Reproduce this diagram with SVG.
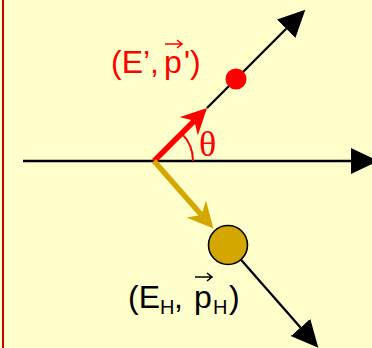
<svg xmlns="http://www.w3.org/2000/svg" width="372" height="348" viewBox="0 0 372 348">
  <style>
    .lbl { font-family: "Liberation Sans", Arial, sans-serif; font-size: 32px; }
    .sub { font-size: 20px; }
    .blk { stroke: #000; stroke-width: 2.3; fill: none; }
  </style>
  <defs>
    <marker id="tri" markerUnits="userSpaceOnUse" markerWidth="28" markerHeight="28" refX="0" refY="13" orient="auto">
      <path d="M0,0 L27,13 L0,26 z" fill="#000"/>
    </marker>
    <marker id="stealthRed" markerUnits="userSpaceOnUse" markerWidth="28" markerHeight="28" refX="8" refY="13" orient="auto">
      <path d="M26,13 L0,0 L8,13 L0,26 z" fill="#FF0000"/>
    </marker>
    <marker id="stealthGold" markerUnits="userSpaceOnUse" markerWidth="28" markerHeight="28" refX="8" refY="13" orient="auto">
      <path d="M26,13 L0,0 L8,13 L0,26 z" fill="#D4A600"/>
    </marker>
  </defs>
  <rect x="0" y="0" width="372" height="348" fill="#FFFFCC"/>
  <line x1="3" y1="0" x2="3" y2="348" stroke="#CC0000" stroke-width="2"/>

  <g id="connectors">
    <line class="blk" x1="23" y1="161" x2="351" y2="161" marker-end="url(#tri)"/>
    <line class="blk" x1="207" y1="108" x2="286.2" y2="28.8" marker-end="url(#tri)"/>
    <line class="blk" x1="240.8" y1="259.6" x2="300.5" y2="327.5" marker-end="url(#tri)"/>
    <line x1="154" y1="161" x2="194.3" y2="120.7" stroke="#FF0000" stroke-width="5.5" marker-end="url(#stealthRed)"/>
    <line x1="154" y1="161" x2="201.5" y2="215" stroke="#D4A600" stroke-width="5.5" marker-end="url(#stealthGold)"/>
    <path d="M193,161 A39,39 0 0 0 181.6,133.4" fill="none" stroke="#FF0000" stroke-width="2"/>
  </g>

  <g id="theta">
    <text x="199" y="156" font-family="'Liberation Serif', 'Times New Roman', serif" font-size="36" fill="#FF0000">θ</text>
  </g>

  <g id="photon">
    <circle cx="236" cy="79" r="10.5" fill="#FF0000"/>
    <text class="lbl" y="73" fill="#FF0000"><tspan x="111">(E’,</tspan><tspan x="164">p</tspan><tspan x="184">')</tspan></text>
    <path d="M165,44 H182 M177,40 L182,44 L177,48" fill="none" stroke="#FF0000" stroke-width="1.6"/>
  </g>

  <g id="hadron">
    <circle cx="228" cy="245" r="19.5" fill="#D4A600" stroke="#000" stroke-width="1.6"/>
    <text class="lbl" y="308" fill="#000"><tspan x="128">(E</tspan><tspan class="sub" x="160" dy="6">H</tspan><tspan x="174" dy="-6">,</tspan><tspan x="194">p</tspan><tspan class="sub" x="213" dy="6">H</tspan><tspan x="229" dy="-6">)</tspan></text>
    <path d="M195,277 H212 M207,273 L212,277 L207,281" fill="none" stroke="#000" stroke-width="1.6"/>
  </g>
</svg>
